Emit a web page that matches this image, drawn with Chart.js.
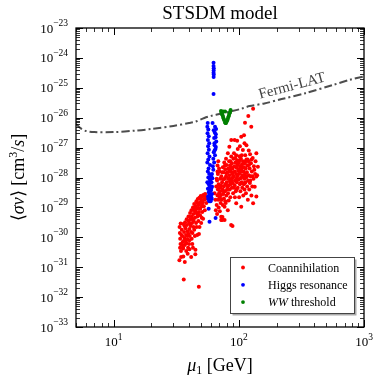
<!DOCTYPE html>
<html>
<head>
<meta charset="utf-8">
<script src="https://cdn.jsdelivr.net/npm/chart.js@4"></script>
<style>
  html, body { margin: 0; padding: 0; background: #fff; }
  canvas { display: block; }
</style>
</head>
<body>
<canvas id="chart" width="382" height="383"></canvas>
<script>
// axis ranges and tick labels (powers of ten)
const xRange = [5, 1000];
const yRange = [1e-33, 1e-23];
const xTickExponents = [1, 2, 3];
const yTickExponents = [-33, -32, -31, -30, -29, -28, -27, -26, -25, -24, -23];

const seriesNames = ["Coannihilation", "Higgs resonance", "WW threshold"];

// Fermi-LAT limit [mass GeV, <sigma v> cm^3/s]
const fermiPoints = [
  [5, 6.2e-27], [5.5, 4.3e-27], [6, 3.6e-27], [7, 3.3e-27], [10, 3.3e-27], [15, 3.7e-27],
  [20, 4.2e-27], [30, 5.3e-27], [40, 6.6e-27], [45, 7.4e-27], [53, 9.8e-27], [60, 1.15e-26],
  [70, 1.32e-26], [85, 1.6e-26], [105, 2.0e-26], [122, 2.45e-26], [160, 3.0e-26],
  [220, 4.2e-26], [340, 6.6e-26], [570, 1.26e-25], [770, 1.85e-25], [1000, 2.4e-25],
];

// Coannihilation points
const coannPoints = [
  // low mass band
  [33.6, 2.2e-30], [33.8, 1.4e-30], [34.0, 9e-31], [34.2, 6e-31], [34.5, 3.5e-31], [34.6, 2.2e-31],
  [33.5, 1.7e-31], [35.0, 1.8e-30], [35.3, 1.1e-30], [35.6, 7e-31], [35.8, 4.5e-31], [36.0, 2.8e-30],
  [36.3, 3.9e-32], [36.5, 1.5e-30], [36.8, 9.5e-31], [37.0, 5.5e-31], [37.2, 3.2e-30], [37.5, 2e-30],
  [37.8, 1.2e-30], [38.0, 6.5e-31], [38.3, 4e-30], [38.5, 2.6e-30], [38.8, 1.6e-30], [39.0, 8.5e-31],
  [39.3, 4.5e-31], [39.6, 5e-30], [40.0, 3e-30], [40.3, 1.9e-30], [40.5, 1.1e-30], [40.8, 6.5e-30],
  [41.0, 4e-30], [41.3, 2.4e-30], [41.6, 2.2e-31], [41.8, 8e-30], [42.0, 5e-30], [42.3, 3e-30],
  [42.6, 1.4e-30], [43.0, 1e-29], [43.3, 6e-30], [43.6, 3.5e-30], [44.0, 1.3e-29], [44.3, 8e-30],
  [44.6, 4.5e-30], [44.9, 2.7e-31], [45.2, 1.1e-29], [45.5, 6.5e-30], [45.8, 1.6e-29], [46.2, 9e-30],
  [46.6, 5e-30], [47.0, 1.9e-29], [47.4, 1.2e-29], [47.9, 2.2e-32], [48.0, 7e-30], [48.4, 2.1e-29],
  [48.8, 1.4e-29], [49.2, 9e-30], [49.6, 2.4e-29], [50.0, 1.6e-29], [50.5, 1.1e-29], [51.0, 2.3e-29],
  [51.5, 1.5e-29], [52.0, 2.6e-29], [52.6, 1.8e-29], [53.2, 2.4e-29], [47.5, 3.5e-30], [46.0, 2.2e-30],
  [44.0, 1.8e-30], [42.0, 9e-31], [40.0, 6e-31], [38.0, 3.5e-31], [36.0, 2.3e-31], [46.5, 1.2e-30],
  [48.5, 2.2e-30], [50.5, 4.5e-30], [53.5, 8e-30], [55.0, 1.4e-29], [39.0, 2.8e-31], [43.0, 4.5e-31],
  [45.0, 3.8e-31], [37.0, 1.5e-31], [40.3, 4e-31], [35.9, 4.2e-31], [38.1, 6.3e-31], [40.3, 8e-31],
  [41.5, 1.5e-30], [43.5, 2.2e-30], [45.5, 3e-30], [47.0, 6e-30], [49.0, 5.5e-30], [51.0, 7e-30],
  [52.5, 1.1e-29], [54.0, 1.9e-29], [50.0, 3e-30], [48.0, 1.3e-30], [44.5, 1.1e-30], [42.5, 6e-31],
  [39.5, 1.3e-30], [36.8, 2.4e-30], [34.8, 1.2e-30], [35.2, 5.5e-31], [37.6, 8e-31], [43.8, 9e-30],
  [46.8, 1.4e-29], [49.8, 1.9e-29], [53.8, 2.8e-29], [55.5, 2.2e-29], [51.8, 4.2e-30], [45.0, 7.5e-30],
  [40.8, 2.8e-30], [38.7, 1.1e-30], [36.2, 7.5e-31], [34.3, 2.9e-30], [33.9, 4.5e-31], [39.8, 3.5e-30],
  [42.8, 4e-30], [47.8, 9.5e-30], [50.8, 1.3e-29],
  // upper cluster
  [64, 3e-29], [65, 1.8e-29], [66, 5e-29], [66.5, 1.2e-29], [67, 8e-29], [67.5, 2.5e-29],
  [68, 1.3e-28], [68, 4e-29], [65.5, 8e-30], [67, 6e-30],
  [68.5, 1.8e-29], [69, 6e-29], [69, 1e-29], [69.5, 3e-29], [70, 1.6e-28], [70, 4.5e-29],
  [70.5, 2.2e-29], [70.5, 7.5e-30], [71, 9e-29], [71, 3.5e-29], [71.5, 1.4e-29], [72, 5.5e-29],
  [72, 2.6e-29], [72.3, 4.9e-30], [72.5, 1.1e-28], [73, 3.8e-30], [73, 1.8e-29], [73.5, 7e-29],
  [74, 4e-29], [74, 4.8e-30], [74.5, 2.2e-28], [74.5, 1.2e-29], [75, 2.8e-29], [75, 8.5e-29],
  [75.5, 1.5e-28], [76, 5e-29], [76, 2e-29], [76.5, 3.2e-28], [76.9, 1.05e-29], [76.9, 3.8e-30],
  [77, 9e-29], [77.5, 3.5e-29], [78, 1.9e-28], [78, 6e-29], [78.5, 1.4e-29], [79, 4.2e-28],
  [79, 1.1e-28], [79.5, 2.5e-29], [80, 7e-29], [80, 2.6e-28], [80.5, 4e-29], [81, 1.5e-28],
  [81.6, 8.1e-30], [81.7, 6.5e-28], [82, 9e-29], [82, 3e-29], [82.5, 2e-28], [83, 5.5e-29],
  [83, 1.7e-29], [83.5, 3.5e-28], [84, 1.07e-27], [84, 1.2e-28], [84.5, 4e-29], [85, 2.5e-28],
  [85, 7.5e-29], [85.5, 2.2e-29], [86, 1.6e-28], [86.8, 2.6e-30], [87, 1.8e-27], [87, 5e-28],
  [87.5, 9e-29], [88, 3e-28], [88, 4.5e-29], [88.5, 1.3e-28], [89, 2.4e-30], [89, 2e-28],
  [89.5, 6.5e-29], [90, 3e-29], [90.5, 4.2e-28], [91, 1.1e-28], [91.4, 6.5e-28], [92, 2.4e-28],
  [92.5, 1.8e-27], [92.5, 5.5e-29], [93, 1.6e-28], [93.5, 8e-29], [94, 3.2e-28], [94.5, 3.5e-29],
  [95, 1.3e-28], [95.3, 5.6e-28], [95.3, 1.38e-29], [96, 2.1e-28], [96.5, 7e-29], [97, 1.7e-27],
  [97, 3.8e-28], [97.5, 1.1e-28], [98, 4.5e-29], [98.5, 2.6e-28], [99, 1.7e-28], [99.5, 8.5e-29],
  [100, 3.2e-28], [100.5, 2.2e-29], [101, 5.1e-28], [101.5, 1.4e-28], [102, 6e-29], [102.5, 2.3e-28],
  [103, 3.5e-29], [103.5, 9.5e-29], [104, 4.2e-28], [104.5, 2.3e-27], [104.5, 1.05e-29], [105, 1.8e-28],
  [105.5, 7e-29], [106, 2.8e-28], [106.5, 4.5e-29], [107, 1.2e-28], [107.7, 8.3e-28], [108, 3.5e-28],
  [108.5, 2.5e-29], [109, 1.6e-28], [109.5, 6e-29], [110, 2.6e-27], [110, 2.2e-28], [110.5, 9e-29],
  [111, 1.4e-27], [111, 4e-29], [111.5, 3e-28], [112, 6.8e-27], [112, 1.3e-28], [112.5, 5.5e-28],
  [113, 7e-29], [113.5, 2e-28], [114, 3e-29], [114.5, 1e-28],
  [115, 4e-28], [116, 1.5e-28], [116.5, 5e-29], [117, 2.5e-28], [118, 1.8e-29], [118.5, 8e-29],
  [119, 1.15e-26], [119.5, 3.5e-28], [120, 1.2e-28], [121, 4e-29], [122, 2e-28], [122.5, 6.5e-29],
  [123, 6e-28], [124, 1.1e-28], [125, 3e-28], [125.7, 5e-27], [126, 2.5e-29], [127, 1.6e-28],
  [128, 5e-29], [129, 4.5e-28], [130, 2e-26], [130, 1.38e-29], [131, 9e-29], [132, 2.4e-28],
  [134, 4.9e-29], [135, 1.3e-28], [138, 6.5e-28], [138, 1.07e-28], [138, 2.3e-29], [142, 2.3e-28],
  [72.3, 3.8e-30], [74, 3.9e-30], [78, 1.6e-29], [86, 6e-29], [90, 1.5e-28], [100, 1.9e-28],
  [84, 1.8e-28], [88, 8e-29], [93, 2.2e-29], [96, 4e-29], [103, 1.6e-28], [106, 1.05e-28],
  [66.5, 9e-29], [67.5, 1.6e-28], [69.5, 2e-28], [71.5, 5e-29], [73.5, 1.5e-28], [75.5, 3.5e-29],
  [77.5, 2.5e-28], [79.5, 1.4e-28], [81.5, 5e-29], [83.5, 9e-29], [85.5, 3.5e-28], [87.5, 2.2e-28],
  [89.5, 1e-28], [91.5, 4.5e-29], [93.5, 4.5e-28], [95.5, 9e-29], [97.5, 2.8e-28], [99.5, 1.3e-28],
  [101.5, 3.8e-28], [103.5, 6.5e-29], [105.5, 5.5e-28], [107.5, 2.2e-28], [109.5, 1.1e-28],
  [111.5, 6.5e-29], [113.5, 3.5e-28], [115.5, 1.1e-28], [117.5, 4e-28], [120.5, 2.6e-28],
  [123.5, 8e-29], [126.5, 4e-28], [128.5, 1.1e-28], [133, 1.8e-28], [136, 3.5e-28], [140, 1.2e-28],
  [98, 9e-28], [115, 1.2e-27], [120, 8e-28], [102, 1.1e-27], [67.6, 2.5e-28], [68.5, 3.5e-28],
];

// Higgs resonance points
const higgsPoints = [
  [62.8, 6.9e-25], [62.8, 5.4e-25], [63.0, 4.5e-25], [62.9, 3.8e-25], [62.8, 3.2e-25], [63.0, 2.8e-25],
  [62.9, 2.3e-25], [62.8, 6.2e-26],
  [56.4, 6.6e-27], [56.0, 5e-27], [57.0, 4e-27], [56.2, 3e-27], [57.5, 2.4e-27], [56.6, 1.8e-27],
  [58.0, 1.4e-27], [56.8, 1.1e-27], [57.6, 8.5e-28], [56.3, 6.5e-28], [58.3, 5e-28], [57.0, 4e-28],
  [56.0, 3.2e-28], [58.8, 2.6e-28], [57.3, 2e-28], [56.5, 1.6e-28], [58.0, 1.3e-28], [57.0, 1e-28],
  [59.0, 8e-29], [56.0, 7e-29], [57.5, 6e-29], [58.5, 5e-29], [56.6, 4.2e-29], [59.5, 3.6e-29],
  [57.5, 3.2e-29], [58.2, 2.7e-29], [56.8, 2.3e-29], [59.0, 2e-29], [57.8, 1.8e-29],
  [61.7, 6.6e-27], [64.5, 5e-27], [63.0, 3.8e-27], [65.5, 2.8e-27], [63.5, 2.1e-27], [66.0, 1.6e-27],
  [64.0, 1.2e-27], [65.0, 9e-28], [63.0, 7e-28], [64.5, 5.5e-28], [62.5, 4.2e-28], [63.5, 3.2e-28],
  [62.0, 2.4e-28], [62.5, 1.8e-28], [61.0, 1.3e-28], [61.5, 9.5e-29], [60.5, 7e-29], [61.0, 5e-29],
  [60.0, 3.8e-29], [61.0, 2.8e-29], [60.2, 2.2e-29], [59.5, 1.6e-29],
  [65.8, 4.2e-27], [64.2, 3.2e-27], [65.2, 2.2e-27], [63.8, 1.4e-27], [65.5, 1.05e-27], [64.0, 8e-28],
  [58.5, 9e-29], [60.0, 1.1e-28], [59.0, 6.5e-29], [60.5, 4.5e-29], [58.0, 4e-29], [59.5, 2.5e-29],
  [58.5, 2.2e-29], [57.0, 1.9e-29], [60.8, 1.9e-29], [58.0, 1.6e-29],
  [57.4, 9e-30], [58.3, 3.3e-30], [65.2, 4.4e-30],
];

// WW threshold points
const wwPoints = [
  [72.0, 1.67e-26], [73.4, 1.33e-26], [74.8, 1.05e-26], [76.2, 8.4e-27], [77.6, 6.9e-27], [79.0, 6.6e-27],
  [80.5, 7.7e-27], [82.0, 9.8e-27], [83.5, 1.23e-26], [85.1, 1.55e-26], [85.9, 1.82e-26], [74.8, 1.6e-26],
  [77.6, 1.6e-26], [72.7, 1.5e-26], [74.1, 1.2e-26], [75.5, 9.4e-27], [78.3, 6.7e-27], [81.2, 8.6e-27],
  [82.8, 1.1e-26], [84.3, 1.4e-26],
];

const seriesColors = ["#ff0000", "#0000ff", "#008000"];
const SERIF = '"Liberation Serif", "Times New Roman", serif';

function toXY(points) {
  return points.map(([x, y]) => ({ x, y }));
}

function font(size, italic) {
  return (italic ? "italic " : "") + size + "px " + SERIF;
}

// runs: [text, size, italic, dy]
function drawRuns(ctx, runs, x, y, align) {
  let total = 0;
  runs.forEach((r) => {
    ctx.font = font(r[1], r[2]);
    total += ctx.measureText(r[0]).width;
  });
  let cx = align === "center" ? x - total / 2 : align === "right" ? x - total : x;
  ctx.textAlign = "left";
  ctx.textBaseline = "alphabetic";
  runs.forEach((r) => {
    ctx.font = font(r[1], r[2]);
    ctx.fillText(r[0], cx, y + (r[3] || 0));
    cx += ctx.measureText(r[0]).width;
  });
}

function powRuns(exp) {
  const sup = exp < 0 ? "\u2212" + -exp : String(exp);
  return [["10", 13, false, 0], [sup, 9.5, false, -6.5]];
}

function logTicks(min, max) {
  const out = [];
  for (let e = Math.floor(Math.log10(min)); e <= Math.ceil(Math.log10(max)); e += 1) {
    for (let k = 1; k <= 9; k += 1) {
      const v = k * Math.pow(10, e);
      if (v >= min * 0.999 && v <= max * 1.001) out.push({ v, major: k === 1 });
    }
  }
  return out;
}

const decorations = {
  id: "decorations",
  afterDatasetsDraw(chart) {
    const { ctx, chartArea: a, scales } = chart;
    const xs = scales.x;
    const ys = scales.y;
    ctx.save();
    ctx.strokeStyle = "#000";
    ctx.fillStyle = "#000";

    // ticks on all four sides, pointing inwards
    logTicks(xRange[0], xRange[1]).forEach((t) => {
      const px = Math.round(xs.getPixelForValue(t.v)) + 0.5;
      const len = t.major ? 7 : 4;
      ctx.lineWidth = t.major ? 1 : 0.8;
      ctx.beginPath();
      ctx.moveTo(px, a.bottom);
      ctx.lineTo(px, a.bottom - len);
      ctx.moveTo(px, a.top);
      ctx.lineTo(px, a.top + len);
      ctx.stroke();
    });
    logTicks(yRange[0], yRange[1]).forEach((t) => {
      const py = Math.round(ys.getPixelForValue(t.v)) + 0.5;
      const len = t.major ? 7 : 4;
      ctx.lineWidth = t.major ? 1 : 0.8;
      ctx.beginPath();
      ctx.moveTo(a.left, py);
      ctx.lineTo(a.left + len, py);
      ctx.moveTo(a.right, py);
      ctx.lineTo(a.right - len, py);
      ctx.stroke();
    });

    ctx.lineWidth = 1.3;
    ctx.strokeRect(a.left, a.top, a.right - a.left, a.bottom - a.top);

    // tick labels
    xTickExponents.forEach((e) => {
      drawRuns(ctx, powRuns(e), xs.getPixelForValue(Math.pow(10, e)), a.bottom + 19, "center");
    });
    yTickExponents.forEach((e) => {
      drawRuns(ctx, powRuns(e), a.left - 8, ys.getPixelForValue(Math.pow(10, e)) + 4.5, "right");
    });

    // Fermi-LAT label
    ctx.save();
    ctx.fillStyle = "#444";
    ctx.translate(293, 90);
    ctx.rotate(-0.26);
    drawRuns(ctx, [["Fermi-LAT", 15, false, 0]], 0, 0, "center");
    ctx.restore();

    // legend
    const lx = 230, ly = 257, lw = 124, lh = 56;
    ctx.fillStyle = "#aaa";
    ctx.fillRect(lx + 2.5, ly + 2.5, lw, lh);
    ctx.fillStyle = "#fff";
    ctx.fillRect(lx, ly, lw, lh);
    ctx.strokeStyle = "#444";
    ctx.lineWidth = 1;
    ctx.strokeRect(lx + 0.5, ly + 0.5, lw, lh);
    const rows = [
      [[seriesNames[0], 12, false, 0]],
      [[seriesNames[1], 12, false, 0]],
      [["WW", 12, true, 0], [" threshold", 12, false, 0]],
    ];
    rows.forEach((runs, i) => {
      const cy = ly + 10.5 + i * 17.3;
      ctx.fillStyle = seriesColors[i];
      ctx.beginPath();
      ctx.arc(243, cy, 1.9, 0, Math.PI * 2);
      ctx.fill();
      ctx.fillStyle = "#000";
      drawRuns(ctx, runs, 268, cy + 4, "left");
    });

    // title and axis titles
    ctx.fillStyle = "#000";
    const midX = (a.left + a.right) / 2;
    drawRuns(ctx, [["STSDM model", 19, false, 0]], midX, 18.5, "center");
    drawRuns(ctx, [["\u03bc", 18, true, 0], ["1", 12, false, 3], [" [GeV]", 18, false, 0]], midX, 371, "center");

    ctx.save();
    ctx.translate(24, (a.top + a.bottom) / 2);
    ctx.rotate(-Math.PI / 2);
    drawRuns(ctx, [
      ["\u27e8", 18, false, 0],
      ["\u03c3v", 18, true, 0],
      ["\u27e9 [cm", 18, false, 0],
      ["3", 12, false, -7],
      ["/", 18, false, 0],
      ["s", 18, true, 0],
      ["]", 18, false, 0],
    ], 0, 0, "center");
    ctx.restore();

    ctx.restore();
  },
};

function scatterSet(label, points, color, order) {
  return {
    type: "scatter",
    label,
    data: toXY(points),
    backgroundColor: color,
    borderWidth: 0,
    pointRadius: 2,
    order,
  };
}

new Chart(document.getElementById("chart"), {
  type: "scatter",
  data: {
    datasets: [
      scatterSet(seriesNames[2], wwPoints, seriesColors[2], 0),
      scatterSet(seriesNames[1], higgsPoints, seriesColors[1], 1),
      scatterSet(seriesNames[0], coannPoints, seriesColors[0], 2),
      {
        type: "line",
        label: "Fermi-LAT",
        data: toXY(fermiPoints),
        borderColor: "#4d4d4d",
        borderWidth: 2,
        borderDash: [8, 3, 2, 3],
        pointRadius: 0,
        fill: false,
        tension: 0.3,
        order: 3,
      },
    ],
  },
  options: {
    responsive: false,
    animation: false,
    events: [],
    layout: { padding: { left: 76, top: 28, right: 18, bottom: 56 } },
    scales: {
      x: { type: "logarithmic", min: xRange[0], max: xRange[1], display: false },
      y: { type: "logarithmic", min: yRange[0], max: yRange[1], display: false },
    },
    plugins: {
      legend: { display: false },
      title: { display: false },
      tooltip: { enabled: false },
    },
  },
  plugins: [decorations],
});
</script>
</body>
</html>
